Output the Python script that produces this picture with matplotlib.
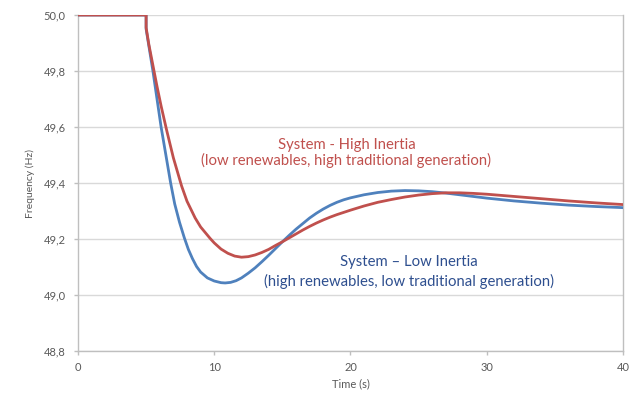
import matplotlib
matplotlib.use("Agg")
import matplotlib.pyplot as plt
from matplotlib.ticker import FuncFormatter

# time axis (s) and frequency (Hz)
t_low = [0, 5.0, 5.0, 5.2, 5.5, 5.8, 6.1, 6.45, 6.8, 7.1, 7.45, 7.8, 8.1, 8.4,
         8.7, 9.0, 9.5, 10.0, 10.5, 10.8, 11.2, 11.6, 12.0, 12.5, 13.0, 13.5,
         14.0, 14.5, 15.0, 15.5, 16.0, 16.5, 17.0, 17.5, 18.0, 18.5, 19.0,
         19.5, 20.0, 21, 22, 23, 24, 25, 26, 27, 28, 29, 30, 32, 34, 36, 38, 40]
f_low = [50.0, 50.0, 49.95, 49.89, 49.80, 49.70, 49.60, 49.50, 49.40, 49.325,
         49.26, 49.205, 49.163, 49.13, 49.102, 49.082, 49.061, 49.05, 49.044,
         49.043, 49.045, 49.051, 49.061, 49.078, 49.097, 49.119, 49.142,
         49.166, 49.19, 49.213, 49.235, 49.255, 49.275, 49.292, 49.307, 49.32,
         49.331, 49.34, 49.347, 49.358, 49.366, 49.371, 49.373, 49.372, 49.369,
         49.364, 49.358, 49.352, 49.346, 49.336, 49.328, 49.321, 49.316, 49.312]

t_high = [0, 5.0, 5.0, 5.2, 5.5, 5.8, 6.1, 6.5, 7.0, 7.6, 8.0, 8.6, 9.0, 9.7,
          10.0, 10.5, 11.0, 11.5, 12.0, 12.5, 13.0, 13.5, 14.0, 14.5, 15.0,
          15.5, 16.0, 16.5, 17.0, 17.5, 18.0, 18.5, 19.0, 19.5, 20.0, 21, 22,
          23, 24, 25, 26, 27, 28, 29, 30, 32, 34, 36, 38, 40]
f_high = [50.0, 50.0, 49.955, 49.895, 49.82, 49.745, 49.675, 49.59, 49.49,
          49.39, 49.335, 49.275, 49.243, 49.202, 49.186, 49.164, 49.149,
          49.139, 49.135, 49.137, 49.143, 49.152, 49.163, 49.177, 49.19,
          49.204, 49.218, 49.232, 49.245, 49.257, 49.268, 49.278, 49.287,
          49.295, 49.303, 49.318, 49.331, 49.341, 49.35, 49.357, 49.362,
          49.365, 49.365, 49.363, 49.36, 49.352, 49.344, 49.336, 49.329, 49.323]

x_ticks = [0, 10, 20, 30, 40]
y_ticks = [48.8, 49.0, 49.2, 49.4, 49.6, 49.8, 50.0]

RED = "#C0504D"
BLUE = "#4F81BD"
GRID = "#D9D9D9"
TXT = "#595959"

plt.rcParams['font.family'] = ['Lato', 'DejaVu Sans']

fig = plt.figure(figsize=(6.31, 3.95), dpi=100)
ax = fig.add_axes([0.1236, 0.1114, 0.8637, 0.8506])

ax.plot(t_low, f_low, color=BLUE, lw=2.0, zorder=3)
ax.plot(t_high, f_high, color=RED, lw=2.0, zorder=4)

ax.set_xlim(0, 40)
ax.set_ylim(48.8, 50.0)
ax.set_xticks(x_ticks)
ax.set_yticks(y_ticks)
ax.yaxis.set_major_formatter(FuncFormatter(lambda v, p: f"{v:.1f}".replace(".", ",")))
ax.grid(axis="y", color=GRID, lw=1.0)
ax.set_axisbelow(True)

for s in ["left", "bottom", "right"]:
    ax.spines[s].set_color("#BFBFBF")
    ax.spines[s].set_linewidth(1.0)
ax.spines["top"].set_visible(False)
ax.tick_params(axis="both", colors="#BFBFBF", length=3, width=1,
               labelcolor=TXT, labelsize=8)
ax.tick_params(axis="y", pad=6)
ax.tick_params(axis="x", pad=5)

ax.set_xlabel("Time (s)", fontsize=8, color=TXT, labelpad=4)
ax.set_ylabel("Frequency (Hz)", fontsize=7.5, color=TXT, labelpad=6)

ax.text(19.7, 49.536, "System - High Inertia", color=RED, fontsize=10.7,
        ha="center", va="center")
ax.text(19.7, 49.479, "(low renewables, high traditional generation)",
        color=RED, fontsize=10.7, ha="center", va="center")
ax.text(24.3, 49.118, "System \u2013 Low Inertia", color="#2E4F8F",
        fontsize=10.7, ha="center", va="center")
ax.text(24.3, 49.05, "(high renewables, low traditional generation)",
        color="#2E4F8F", fontsize=10.7, ha="center", va="center")

fig.savefig("out.png", dpi=100)
